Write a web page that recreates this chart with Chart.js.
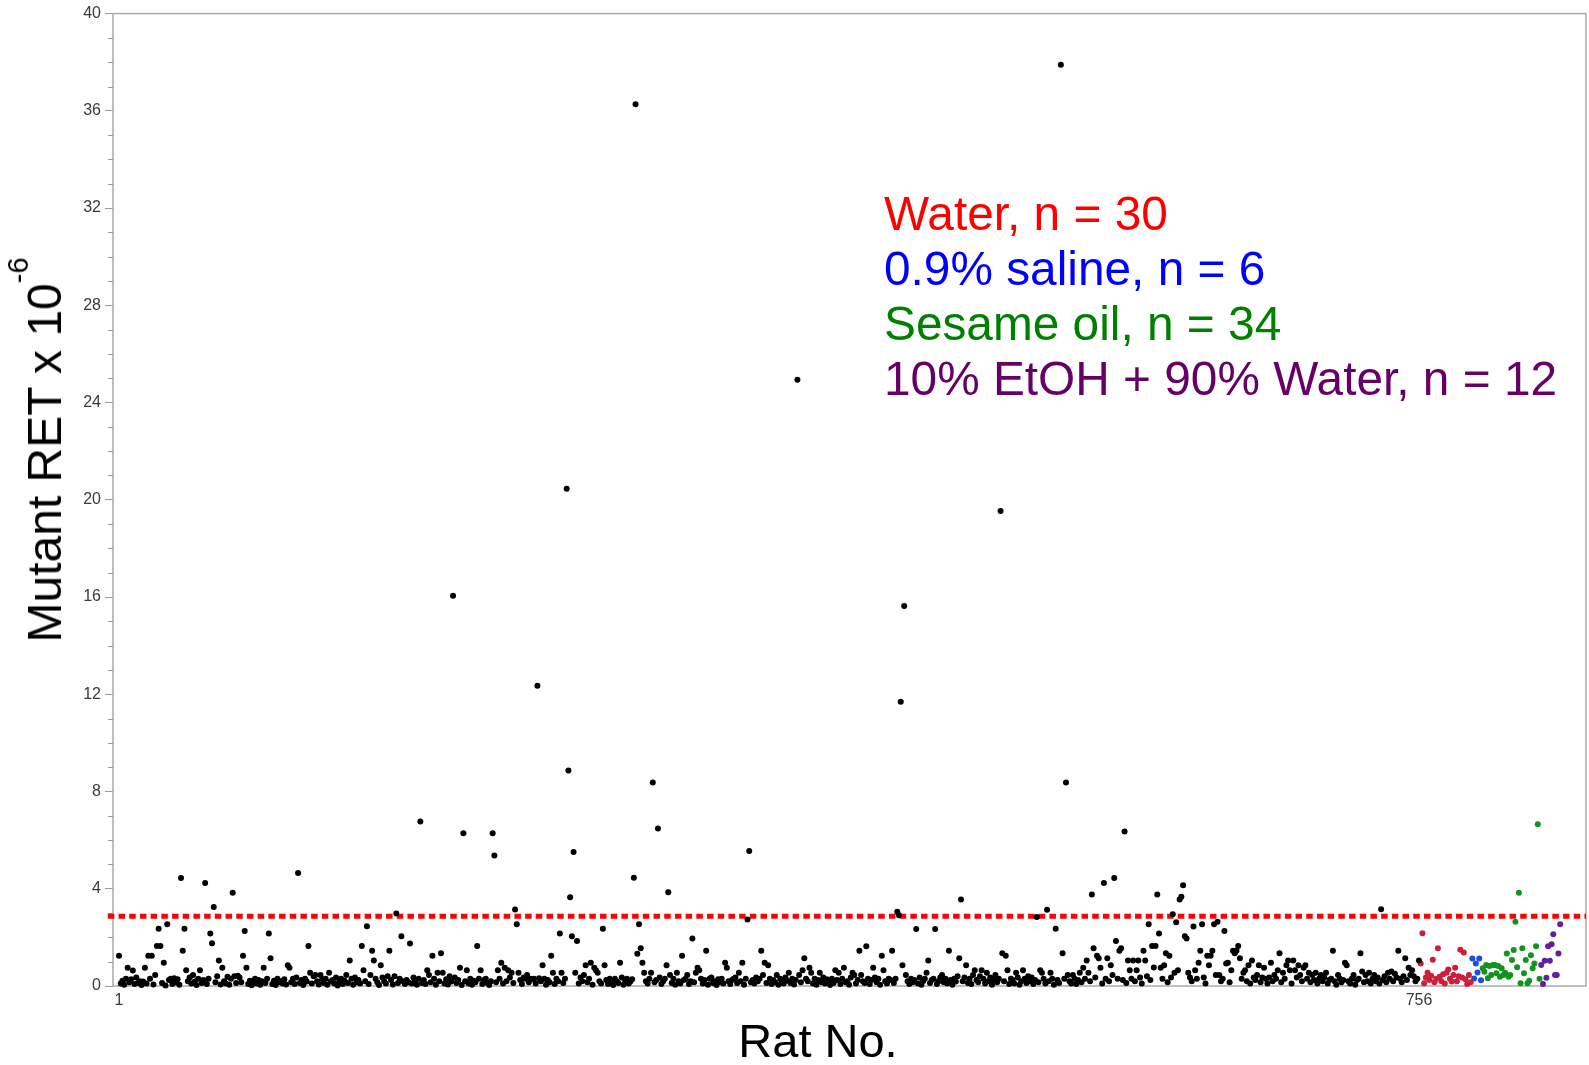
<!DOCTYPE html>
<html>
<head>
<meta charset="utf-8">
<script src="https://cdn.jsdelivr.net/npm/chart.js@4.4.1/dist/chart.umd.min.js"></script>
<style>
  html, body { margin: 0; padding: 0; background: #fff; }
  #wrap { position: relative; width: 1589px; height: 1065px; overflow: hidden; }
  #c { position: absolute; left: 0; top: 0; }
  .txt { position: absolute; font-family: "Liberation Sans", Arial, sans-serif; line-height: 1; white-space: nowrap; }
  .leg { font-size: 47.8px; left: 884px; letter-spacing: 0; }
  #ytitle { font-size: 48px; left: 45px; top: 450px; color: #000; transform: translate(-50%, -50%) rotate(-90deg); }
  #ytitle .sup { font-size: 29px; position: relative; top: -33px; }
  #xtitle { font-size: 47px; left: 818px; top: 1017px; color: #000; transform: translateX(-50%); }
</style>
</head>
<body>
<div id="wrap">
  <canvas id="c" width="1589" height="1065"></canvas>
  <div class="txt leg" style="top:190px;color:#ff0000">Water, n = 30</div>
  <div class="txt leg" style="top:245px;color:#0000ff">0.9% saline, n = 6</div>
  <div class="txt leg" style="top:300px;color:#008000">Sesame oil, n = 34</div>
  <div class="txt leg" style="top:355px;color:#660066">10% EtOH + 90% Water, n = 12</div>
  <div class="txt" id="ytitle">Mutant RET x 10<span class="sup">-6</span></div>
  <div class="txt" id="xtitle">Rat No.</div>
</div>
<script>
// ---- data (Mutant RET x 10^-6 per rat, in rat order) ----
const historicalValues = [
  1.24,0.10,0.22,0.05,0.30,0.75,0.15,0.28,0.64,0.08,
  0.35,0.12,0.20,0.04,0.18,0.75,0.10,1.24,0.30,1.24,
  0.06,0.45,1.65,2.35,1.65,0.12,0.96,0.02,2.54,0.25,
  0.30,0.08,0.32,0.15,0.28,0.05,4.44,1.45,2.35,0.65,
  0.20,0.35,0.10,0.45,0.18,0.04,0.30,0.65,0.12,0.25,
  4.24,0.08,0.30,2.16,1.76,3.25,0.15,0.40,1.05,0.06,
  0.75,0.20,0.10,0.38,0.05,0.30,3.84,0.40,0.12,0.42,
  0.35,0.15,1.24,2.26,0.75,0.08,0.22,0.03,0.18,0.30,
  0.10,0.25,0.05,0.20,0.75,0.12,0.30,2.16,1.14,0.08,
  0.22,0.04,0.30,0.15,0.20,0.10,0.28,0.06,0.85,0.75,
  0.15,0.30,0.08,0.35,4.65,0.12,0.25,0.04,0.30,0.18,
  1.65,0.55,0.10,0.40,0.45,0.20,0.06,0.45,0.28,0.12,
  0.30,0.05,0.55,0.18,0.25,0.10,0.35,0.02,0.20,0.30,
  0.08,0.22,0.45,0.12,1.05,0.30,0.05,0.35,0.15,0.25,
  0.10,1.65,0.65,0.20,2.46,0.08,0.45,1.45,1.05,0.30,
  0.15,0.04,0.85,0.35,0.20,0.10,0.40,1.45,0.25,0.06,
  0.40,2.98,0.12,0.30,2.05,0.20,0.08,0.25,0.15,1.75,
  0.10,0.35,0.22,0.05,0.30,6.77,0.12,0.25,0.08,0.65,
  0.45,0.15,1.24,0.30,0.05,0.55,0.20,1.35,0.55,0.10,
  0.28,0.06,0.40,0.18,16.05,0.35,0.12,0.25,0.75,0.04,
  6.28,0.20,0.65,0.10,0.30,0.05,0.22,0.15,1.65,0.30,
  0.65,0.08,0.25,0.30,0.12,0.04,0.20,6.28,5.37,0.15,
  0.65,0.30,0.96,0.10,0.75,0.20,0.65,0.35,0.55,0.12,
  3.15,2.54,0.55,0.25,0.08,0.35,0.30,0.45,0.15,0.30,
  0.28,0.30,0.10,12.35,0.32,0.20,0.85,0.30,0.05,0.25,
  0.15,1.24,0.55,0.08,0.30,0.20,2.16,0.55,0.12,0.30,
  20.45,8.86,3.65,2.05,5.51,0.55,1.85,0.10,0.35,0.20,
  0.45,0.85,0.15,0.30,0.96,0.05,0.75,0.65,0.55,0.20,
  0.10,2.35,0.85,0.25,0.08,0.30,0.15,0.04,0.30,0.20,
  0.12,0.96,0.35,0.05,0.22,0.30,0.10,0.18,0.28,4.45,
  36.27,1.33,2.54,1.55,0.96,0.55,0.20,0.10,0.30,0.55,
  8.37,0.15,0.25,6.48,0.35,0.08,0.20,0.30,0.85,3.86,
  0.45,0.12,0.30,0.05,0.55,0.20,0.10,1.24,0.25,0.30,
  0.45,0.08,0.20,1.95,0.15,0.55,0.75,0.65,0.30,0.10,
  0.25,1.45,0.05,0.30,0.35,0.12,0.20,0.04,0.28,0.15,
  0.30,0.10,0.96,0.75,0.20,0.08,0.25,0.30,0.35,0.12,
  0.55,0.20,0.96,0.05,0.30,2.74,5.55,0.15,0.25,0.10,
  0.35,0.20,0.30,1.45,0.45,0.96,0.12,0.85,0.30,0.08,
  0.25,0.15,0.45,0.05,0.30,0.20,0.10,0.35,0.22,0.55,
  0.12,0.30,0.06,0.25,24.94,0.45,0.15,0.65,1.14,0.30,
  0.20,0.75,0.55,0.10,0.30,0.05,0.25,0.55,0.15,0.35,
  0.10,0.28,0.20,0.04,0.30,0.12,0.65,0.25,0.55,0.08,
  0.30,0.75,0.15,0.20,0.05,0.35,0.55,0.45,0.10,0.25,
  1.45,0.45,0.20,0.12,1.64,0.30,0.08,0.25,0.75,0.35,
  0.15,0.30,0.05,1.24,0.65,0.20,0.10,0.30,0.25,1.45,
  0.12,0.30,3.05,2.91,11.69,0.85,15.63,0.45,0.20,0.08,
  0.30,0.15,0.25,2.34,0.10,0.35,0.05,0.20,0.30,0.55,
  1.05,0.12,0.25,0.30,2.34,0.08,0.20,0.35,0.45,0.15,
  0.30,0.10,1.45,0.25,0.05,0.30,0.18,0.40,1.14,3.56,
  0.20,0.35,0.85,0.12,0.30,0.08,0.45,0.65,0.25,0.15,
  0.40,0.65,0.30,0.10,0.55,0.20,0.35,0.05,0.25,0.45,
  0.15,0.30,19.54,1.35,0.20,1.24,0.65,0.08,0.30,0.25,
  0.10,0.55,0.35,0.05,0.20,0.65,0.30,0.12,0.40,0.20,
  0.35,0.08,0.25,2.84,0.15,0.65,0.55,0.30,0.10,3.14,
  0.20,0.55,0.30,0.05,2.35,0.25,0.12,37.90,1.35,0.30,
  8.37,0.45,0.20,0.10,0.45,0.30,0.08,0.25,0.55,0.15,
  0.75,0.30,1.05,0.55,0.20,3.76,1.55,0.35,1.24,1.14,
  0.75,0.10,4.24,0.30,1.14,0.20,0.85,0.45,4.44,1.85,
  0.30,1.45,1.55,0.25,6.36,0.12,1.05,0.65,0.30,1.05,
  0.20,0.65,1.05,0.35,0.10,1.45,1.05,0.40,2.54,0.25,
  1.65,0.76,1.65,3.76,2.16,0.75,0.30,0.85,1.35,0.15,
  1.24,0.35,2.95,0.55,2.62,0.65,3.56,3.67,4.14,2.05,
  1.95,0.55,0.35,0.20,2.45,0.65,0.30,0.96,1.45,2.54,
  0.35,0.10,1.24,0.85,1.24,1.45,2.54,0.45,2.64,0.45,
  0.20,0.30,2.26,0.93,0.96,0.15,0.65,1.45,1.35,1.45,
  1.65,1.14,0.30,0.55,0.65,0.20,0.85,0.10,1.05,0.35,
  0.25,0.45,0.85,0.15,0.35,0.75,0.30,0.10,0.35,0.96,
  0.20,0.45,0.30,0.65,1.35,0.15,0.55,0.30,0.85,1.05,
  0.65,0.10,1.05,0.65,0.35,0.85,0.45,0.20,0.75,0.85,
  0.30,0.55,0.15,0.45,0.25,0.55,0.10,0.30,0.45,0.20,
  0.35,0.55,0.10,0.25,0.30,1.45,0.20,0.05,0.45,0.30,
  0.15,0.25,0.96,0.85,0.20,0.10,0.30,0.45,0.05,0.25,
  0.30,1.35,0.60,0.15,0.45,0.20,0.55,0.10,0.30,0.45,
  0.20,0.35,0.10,3.16,0.25,0.40,0.15,0.55,0.30,0.60,
  0.20,0.50,0.35,1.45,0.30,0.15,0.40,1.14,0.25,0.75,
  0.45,0.65,0.40,0.20,0.30,1.05
];
const waterValues = [0.93,2.17,0.11,0.35,0.55,0.25,0.42,1.08,0.15,0.30,1.55,0.38,0.20,0.48,0.10,
                     0.55,0.68,0.30,0.18,0.45,0.75,0.20,0.40,1.49,0.35,1.38,0.28,0.08,0.45,0.15];
const salineValues = [1.13,0.31,0.93,0.56,1.13,0.24];
const sesameValues = [0.73,0.59,0.86,0.32,0.82,0.45,0.86,0.86,0.52,0.82,0.38,0.73,0.45,0.55,1.34,0.38,0.45,
                      1.07,1.48,2.64,0.77,3.84,0.11,1.55,0.52,1.07,0.11,0.22,1.27,0.73,0.93,1.64,6.65,0.30];
const etohValues = [0.86,0.08,1.04,0.34,1.64,1.04,1.72,2.13,0.45,0.45,1.34,2.54];
const cutoffValue = 2.87;
const xTickValues = [1, 756];
const yMajorStep = 4;
const yMinorStep = 1;
const xRange = [-2.5, 853];
const yRange = [0, 40];

// ---- build datasets ----
let nextRat = 1;
function toPoints(values) {
  return values.map(v => ({ x: nextRat++, y: v }));
}
const groups = [
  { label: 'Historical', values: historicalValues, color: '#000000' },
  { label: 'Water', values: waterValues, color: '#cc1f3c' },
  { label: '0.9% saline', values: salineValues, color: '#1f4fd6' },
  { label: 'Sesame oil', values: sesameValues, color: '#10931f' },
  { label: '10% EtOH + 90% Water', values: etohValues, color: '#62209e' }
];
const datasets = groups.map(g => ({
  type: 'scatter',
  label: g.label,
  data: toPoints(g.values),
  backgroundColor: g.color,
  borderWidth: 0,
  pointRadius: 3,
  pointHoverRadius: 3,
  clip: false,
  order: 1
}));
datasets.push({
  type: 'line',
  label: 'cutoff',
  data: [{ x: xRange[0] - 3, y: cutoffValue }, { x: xRange[1], y: cutoffValue }],
  borderColor: '#ff0000',
  borderWidth: 5,
  borderDash: [6.5, 4.2],
  pointRadius: 0,
  fill: false,
  clip: { left: 6, top: 0, right: 0, bottom: 0 },
  order: 10
});

const framePlugin = {
  id: 'frame',
  beforeDatasetsDraw(chart) {
    const { ctx, chartArea: a, scales: { y } } = chart;
    ctx.save();
    ctx.strokeStyle = '#ababab';
    ctx.lineWidth = 1.5;
    ctx.strokeRect(a.left, a.top, a.right - a.left, a.bottom - a.top);
    ctx.lineWidth = 1;
    ctx.strokeStyle = '#9a9a9a';
    for (let v = yRange[0]; v <= yRange[1]; v += yMinorStep) {
      if (v % yMajorStep === 0) continue;
      const py = Math.round(y.getPixelForValue(v)) + 0.5;
      ctx.beginPath();
      ctx.moveTo(a.left - 5, py);
      ctx.lineTo(a.left, py);
      ctx.stroke();
    }
    ctx.restore();
  }
};

new Chart(document.getElementById('c'), {
  data: { datasets },
  options: {
    responsive: false,
    animation: false,
    devicePixelRatio: 1,
    layout: { padding: { left: 0, top: 11, right: 2, bottom: 0 } },
    plugins: { legend: { display: false }, tooltip: { enabled: false } },
    scales: {
      x: {
        type: 'linear',
        min: xRange[0],
        max: xRange[1],
        afterBuildTicks: s => { s.ticks = xTickValues.map(v => ({ value: v })); },
        afterFit: s => { s.height = 79; },
        grid: { display: true, drawOnChartArea: false, drawTicks: false },
        border: { display: false },
        ticks: {
          padding: 5,
          color: '#3a3a3a',
          font: { family: 'Liberation Sans', size: 16 },
          maxRotation: 0,
          autoSkip: false
        }
      },
      y: {
        type: 'linear',
        min: yRange[0],
        max: yRange[1],
        afterFit: s => { s.width = 113; },
        grid: { drawOnChartArea: false, drawTicks: true, tickLength: 8, tickColor: '#9a9a9a' },
        border: { display: false },
        ticks: {
          stepSize: yMajorStep,
          padding: 4,
          color: '#3a3a3a',
          font: { family: 'Liberation Sans', size: 16 }
        }
      }
    }
  },
  plugins: [framePlugin]
});
</script>
</body>
</html>
